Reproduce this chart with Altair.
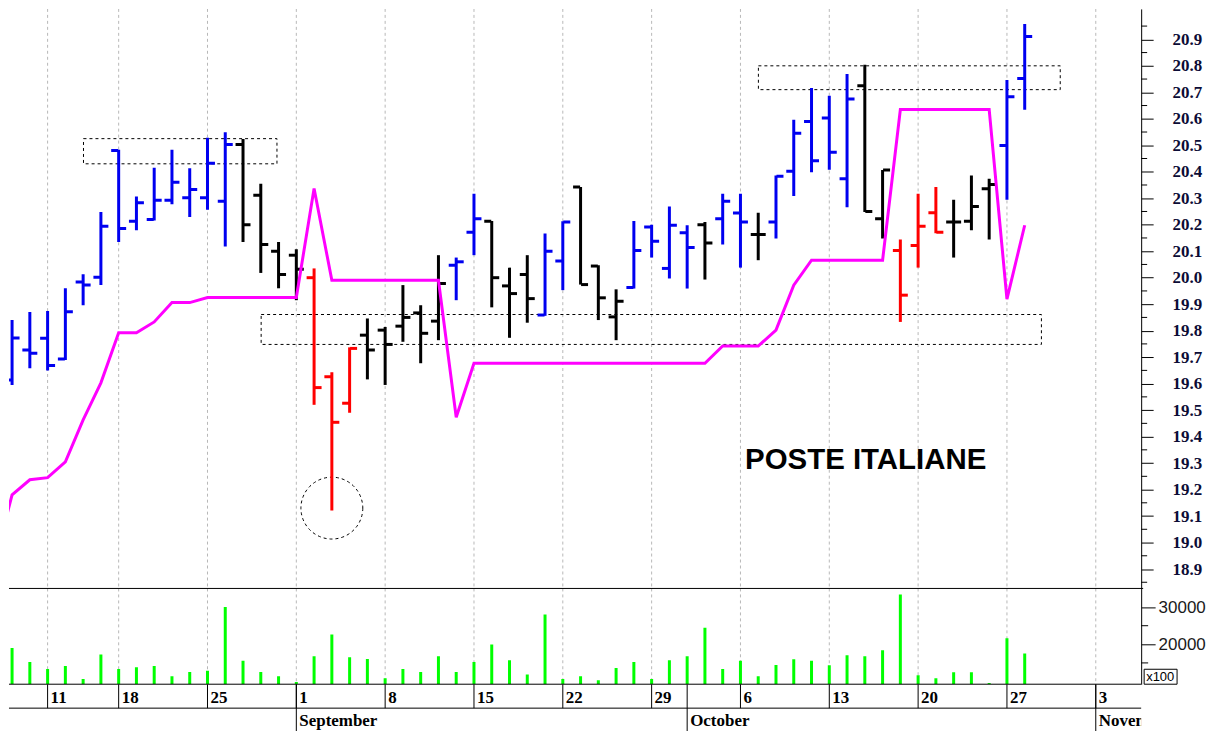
import altair as alt
import pandas as pd

# ---------------- data ----------------
dates = ["Aug 7", "Aug 8", "Aug 11", "Aug 12", "Aug 13", "Aug 14", "Aug 18", "Aug 19", "Aug 20",
         "Aug 21", "Aug 22", "Aug 25", "Aug 26", "Aug 27", "Aug 28", "Aug 29", "Sep 1", "Sep 2",
         "Sep 3", "Sep 4", "Sep 5", "Sep 8", "Sep 9", "Sep 10", "Sep 11", "Sep 12", "Sep 15",
         "Sep 16", "Sep 17", "Sep 18", "Sep 19", "Sep 22", "Sep 23", "Sep 24", "Sep 25", "Sep 26",
         "Sep 29", "Sep 30", "Oct 1", "Oct 2", "Oct 3", "Oct 6", "Oct 7", "Oct 8", "Oct 9",
         "Oct 10", "Oct 13", "Oct 14", "Oct 15", "Oct 16", "Oct 17", "Oct 20", "Oct 21", "Oct 22",
         "Oct 23", "Oct 24", "Oct 27", "Oct 28"]

trend = (["blue"] * 13 + ["black"] * 4 + ["red"] * 3 + ["black"] * 5 + ["blue"] * 2 +
         ["black"] * 3 + ["blue"] * 2 + ["black"] * 3 + ["blue"] * 4 + ["black"] + ["blue"] * 2 +
         ["black"] + ["blue"] * 5 + ["black"] * 2 + ["red"] * 3 + ["black"] * 3 + ["blue"] * 2)

opens = [19.614, 19.727, 19.771, 19.693, 19.984, 20.002, 20.48, 20.213, 20.22, 20.292, 20.302,
         20.302, 20.289, 20.503, 20.311, 20.10, 20.085, 20.00, 19.626, 19.526, 19.783, 19.802,
         19.817, 19.867, 19.836, 20.047, 20.172, 20.213, 19.969, 20.012, 19.859, 20.063, 20.342,
         20.044, 19.852, 19.963, 20.191, 20.035, 20.17, 20.20, 20.223, 20.244, 20.163, 20.21,
         20.402, 20.59, 20.603, 20.374, 20.725, 20.223, 20.103, 20.122, 20.245, 20.21, 20.213,
         20.336, 20.499, 20.752]
highs = [19.84, 19.87, 19.874, 19.96, 20.013, 20.248, 20.483, 20.307, 20.415, 20.483, 20.413,
         20.528, 20.549, 20.524, 20.355, 20.135, 20.107, 20.035, 19.643, 19.737, 19.846, 19.814,
         19.972, 19.896, 20.085, 20.076, 20.317, 20.214, 20.038, 20.085, 20.167, 20.213, 20.342,
         20.047, 19.956, 20.214, 20.20, 20.269, 20.198, 20.21, 20.317, 20.317, 20.245, 20.386,
         20.596, 20.716, 20.687, 20.769, 20.804, 20.407, 20.144, 20.317, 20.342, 20.294, 20.386,
         20.374, 20.746, 20.958]
lows = [19.595, 19.658, 19.65, 19.689, 19.896, 19.972, 20.135, 20.179, 20.216, 20.277, 20.229,
        20.257, 20.118, 20.135, 20.018, 19.96, 19.915, 19.52, 19.121, 19.49, 19.616, 19.595,
        19.758, 19.677, 19.764, 19.915, 20.085, 19.888, 19.773, 19.83, 19.856, 19.953, 19.974,
        19.84, 19.764, 19.959, 20.076, 19.997, 19.959, 19.993, 20.125, 20.038, 20.066, 20.148,
        20.308, 20.398, 20.408, 20.266, 20.248, 20.148, 19.833, 20.038, 20.168, 20.076, 20.179,
        20.144, 20.294, 20.634]
closes = [19.772, 19.715, 19.668, 19.871, 19.972, 20.194, 20.186, 20.283, 20.292, 20.36, 20.333,
          20.432, 20.503, 20.20, 20.125, 20.012, 20.032, 19.585, 19.454, 19.733, 19.727, 19.748,
          19.85, 19.79, 19.978, 20.06, 20.223, 20.00, 19.94, 19.921, 20.10, 20.21, 19.974,
          19.924, 19.911, 20.103, 20.138, 20.198, 20.114, 20.131, 20.289, 20.21, 20.163, 20.383,
          20.545, 20.442, 20.474, 20.675, 20.25, 20.407, 19.934, 20.194, 20.172, 20.21, 20.269,
          20.352, 20.683, 20.911]
volumes = [19035, 15255, 13378, 14182, 10670, 17239, 13378, 13834, 14182, 11394, 12547, 12922,
           30000, 15603, 12547, 11394, 9866, 16783, 22627, 16515, 16059, 10858, 13378, 12547,
           16783, 12547, 15255, 19920, 15684, 11898, 28016, 10670, 11394, 10322, 13646, 15255,
           10670, 15684, 16783, 24424, 13378, 15603, 11394, 14450, 15979, 15603, 14343, 17051,
           16783, 18391, 33400, 11662, 10858, 12466, 12466, 9598, 21609, 17560]

# magenta indicator, starting one session earlier (Aug 6)
stop_values = [18.92, 19.18, 19.237, 19.245, 19.305, 19.463, 19.603, 19.792, 19.792, 19.833,
               19.906, 19.906, 19.925, 19.925, 19.925, 19.925, 19.925, 19.925, 20.337,
               19.99, 19.99, 19.99, 19.99, 19.99, 19.99, 19.99, 19.473,
               19.677, 19.677, 19.677, 19.677, 19.677, 19.677, 19.677, 19.677, 19.677, 19.677,
               19.677, 19.677, 19.677, 19.677, 19.742, 19.742, 19.742, 19.802, 19.972,
               20.066, 20.066, 20.066, 20.066, 20.066, 20.635, 20.635, 20.635, 20.635, 20.635,
               20.635, 19.919, 20.198]

# dashed annotation boxes: session index from/to, price from/to
box_x1 = [2.02, 12.02, 40.01]
box_x2 = [12.91, 55.94, 57.0]
box_y1 = [20.43, 19.748, 20.71]
box_y2 = [20.525, 19.861, 20.80]
circle_x = [16]
circle_y = [19.13]

title_text = ["POSTE ITALIANE"]
title_x = [39.26]
title_y = [19.279]

week_labels = ["11", "18", "25", "1", "8", "15", "22", "29", "6", "13", "20", "27", "3"]
week_pos = [0, 4, 9, 14, 19, 24, 29, 34, 39, 44, 49, 54, 59]
month_labels = ["September", "October", "November"]
month_pos = [14, 36, 59]

price_ticks = [18.9, 19.0, 19.1, 19.2, 19.3, 19.4, 19.5, 19.6, 19.7, 19.8, 19.9,
               20.0, 20.1, 20.2, 20.3, 20.4, 20.5, 20.6, 20.7, 20.8, 20.9]
price_minor = [18.85] + [round(t + 0.05, 2) for t in price_ticks]
volume_ticks = [20000, 30000]
volume_minor = [15000, 25000]

# ---------------- layout ----------------
W = 1135
H1 = 581
H2 = 96
H3 = 47
X_DOMAIN = [-2.173, 61.555]
P_DOMAIN = [18.8266, 21.0149]
V_DOMAIN = [9276, 35014]

ref = dates.index("Aug 11")
bars = pd.DataFrame({
    "i": [k - ref for k in range(len(dates))], "date": dates, "trend": trend,
    "open": opens, "high": highs, "low": lows, "close": closes, "vol": volumes,
})
stop = pd.DataFrame({"i": [k - ref - 1 for k in range(len(stop_values))], "v": stop_values})
boxes = pd.DataFrame({"x1": box_x1, "x2": box_x2, "y1": box_y1, "y2": box_y2})
circ = pd.DataFrame({"x": circle_x, "y": circle_y})
ttl = pd.DataFrame({"t": title_text, "x": title_x, "y": title_y})
weeks = pd.DataFrame({"i": week_pos, "lab": week_labels})
months = pd.DataFrame({"i": month_pos, "lab": month_labels})
pminor = pd.DataFrame({"v": price_minor})
vminor = pd.DataFrame({"v": volume_minor})
one = pd.DataFrame({"a": [0]})

xs = alt.Scale(domain=X_DOMAIN, nice=False, zero=False)
ps = alt.Scale(domain=P_DOMAIN, nice=False, zero=False)
vs = alt.Scale(domain=V_DOMAIN, nice=False, zero=False)

paxis = alt.Axis(orient="right", values=price_ticks, format=".1f", tickSize=12, labelPadding=19,
                 labelFont="Liberation Serif", labelFontWeight="bold", labelFontSize=17,
                 labelColor="#0c0c36", domainColor="black", tickColor="black", domainWidth=1,
                 tickWidth=1, grid=False, title=None, labelFlush=False)
vaxis = alt.Axis(orient="right", values=volume_ticks, format="d", tickSize=14, labelPadding=3,
                 labelFont="Liberation Sans", labelFontSize=17, labelColor="#1a1a1a",
                 domainColor="black", tickColor="black", grid=False, title=None, labelFlush=False)


def X(field):
    return alt.X(field, type="quantitative", scale=xs, axis=None)


def YP(field):
    return alt.Y(field, type="quantitative", scale=ps, axis=paxis)


def YV(field):
    return alt.Y(field, type="quantitative", scale=vs, axis=vaxis)


color = alt.Color("trend:N", scale=alt.Scale(domain=["blue", "black", "red"],
                                             range=["#0000f0", "#000000", "#ff0000"]), legend=None)
grid_style = dict(color="#b8b8b8", strokeDash=[3, 3], strokeWidth=1)

# ---------------- price panel ----------------
p_grid = alt.Chart(weeks).mark_rule(clip=True, **grid_style).encode(x=X("i"))
p_boxes = alt.Chart(boxes).mark_rect(fillOpacity=0, stroke="black", strokeWidth=1,
                                     strokeDash=[3, 3], clip=True).encode(
    x=X("x1"), x2="x2", y=YP("y1"), y2="y2")
p_circle = alt.Chart(circ).mark_point(shape="circle", size=3848, filled=False, color="black",
                                      strokeWidth=1, strokeDash=[3, 3], opacity=1,
                                      clip=True).encode(x=X("x"), y=YP("y"))
p_hl = alt.Chart(bars).mark_rule(strokeWidth=3, clip=True).encode(
    x=X("i"), y=YP("low"), y2="high", color=color)
p_open = alt.Chart(bars).mark_tick(orient="horizontal", size=7, thickness=3, xOffset=-4,
                                   opacity=1, clip=True).encode(x=X("i"), y=YP("open"), color=color)
p_close = alt.Chart(bars).mark_tick(orient="horizontal", size=7, thickness=3, xOffset=4,
                                    opacity=1, clip=True).encode(x=X("i"), y=YP("close"), color=color)
p_stop = alt.Chart(stop).mark_line(color="#ff00ff", strokeWidth=3, clip=True).encode(
    x=X("i"), y=YP("v"))
p_title = alt.Chart(ttl).mark_text(align="left", baseline="alphabetic", font="Liberation Sans",
                                   fontWeight="bold", fontSize=29.5, color="black").encode(
    x=X("x"), y=YP("y"), text="t:N")
p_minor = alt.Chart(pminor).mark_rule(color="black", strokeWidth=1).encode(
    x=alt.value(W), x2=alt.value(W + 6), y=YP("v"))

price = alt.layer(p_grid, p_boxes, p_circle, p_hl, p_open, p_close, p_stop, p_title,
                  p_minor).properties(width=W, height=H1)

# ---------------- volume panel ----------------
v_grid = alt.Chart(weeks).mark_rule(clip=True, **grid_style).encode(x=X("i"))
v_bars = alt.Chart(bars).mark_rule(color="#00ff00", strokeWidth=3, clip=True).encode(
    x=X("i"), y=YV("vol"), y2=alt.value(H2))
v_sep = alt.Chart(one).mark_rule(color="black", strokeWidth=1).encode(
    x=alt.value(0), x2=alt.value(W + 2), y=alt.value(0))
v_minor = alt.Chart(vminor).mark_rule(color="black", strokeWidth=1).encode(
    x=alt.value(W), x2=alt.value(W + 7), y=YV("v"))
v_box = alt.Chart(one).mark_rect(fillOpacity=0, stroke="black", strokeWidth=1).encode(
    x=alt.value(W + 3), x2=alt.value(W + 36), y=alt.value(H2 - 15), y2=alt.value(H2))
v_boxtext = alt.Chart(one).mark_text(align="left", baseline="middle", font="Liberation Sans",
                                     fontSize=13, color="black", text="x100").encode(
    x=alt.value(W + 5), y=alt.value(H2 - 7))

volume = alt.layer(v_grid, v_bars, v_sep, v_minor, v_box, v_boxtext).properties(width=W, height=H2)

# ---------------- date rows ----------------
d_top = alt.Chart(one).mark_rule(color="black", strokeWidth=1).encode(
    x=alt.value(0), x2=alt.value(W), y=alt.value(0))
d_mid = alt.Chart(one).mark_rule(color="black", strokeWidth=1).encode(
    x=alt.value(0), x2=alt.value(W), y=alt.value(24))
d_wsep = alt.Chart(weeks).mark_rule(color="black", strokeWidth=1, clip=True).encode(
    x=X("i"), y=alt.value(0), y2=alt.value(24))
d_msep = alt.Chart(months).mark_rule(color="black", strokeWidth=1, clip=True).encode(
    x=X("i"), y=alt.value(0), y2=alt.value(H3))
d_wlab = alt.Chart(weeks).mark_text(align="left", baseline="alphabetic", dx=3,
                                    font="Liberation Serif", fontWeight="bold", fontSize=17,
                                    color="black", clip=True).encode(
    x=X("i"), y=alt.value(19), text="lab:N")
d_mlab = alt.Chart(months).mark_text(align="left", baseline="alphabetic", dx=3,
                                     font="Liberation Serif", fontWeight="bold", fontSize=17,
                                     color="black", clip=True).encode(
    x=X("i"), y=alt.value(42), text="lab:N")

daterows = alt.layer(d_top, d_mid, d_wsep, d_msep, d_wlab, d_mlab).properties(width=W, height=H3)

chart = alt.vconcat(price, volume, daterows, spacing=0, bounds="flush").properties(
    padding=0, background="white"
).configure_view(stroke=None)

chart.save("out.html", embed_options={"renderer": "svg", "actions": False})
